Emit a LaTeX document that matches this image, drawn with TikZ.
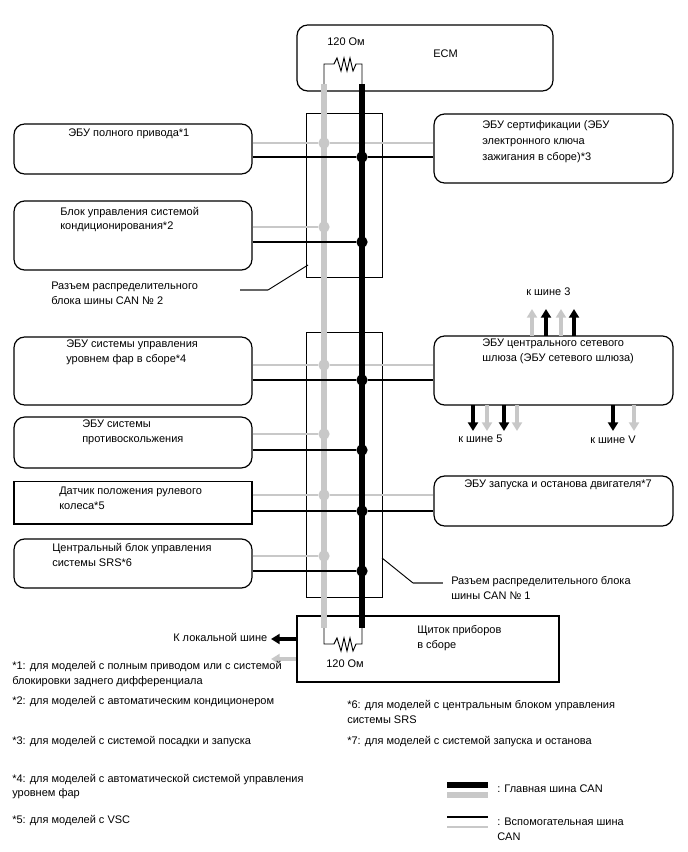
\documentclass[tikz,border=0pt]{standalone}
\usepackage{fontspec}
\setmainfont{Liberation Sans}
\usepackage{xcolor}
\usetikzlibrary{arrows.meta}
\definecolor{busgray}{RGB}{200,200,200}

\begin{document}
\begin{tikzpicture}[
      x=0.75pt, y=-0.75pt,
      font=\fontsize{8.25pt}{11.2pt}\selectfont,
      ecu/.style={draw, line width=0.9pt, rounded corners=8pt, inner sep=0pt},
      rectbox/.style={draw, line width=0.8pt, inner sep=0pt},
      joint/.style={draw, line width=0.7pt, inner sep=0pt},
      lbl/.style={anchor=west, inner sep=0pt, align=left, yshift=-0.8pt},
      gdot/.style={circle, fill=busgray, inner sep=0pt, minimum size=8.5pt},
      bdot/.style={circle, fill=black, inner sep=0pt, minimum size=8.5pt},
      gmain/.style={busgray, line width=3.8pt},
      bmain/.style={black, line width=3.8pt},
      gsub/.style={busgray, line width=2pt},
      bsub/.style={black, line width=2pt},
      thinw/.style={black, line width=0.7pt},
      leader/.style={black!60, line width=0.8pt},
      garrow/.style={-{Triangle[length=6.5pt,width=7.5pt]}, busgray, line width=3.4pt},
      barrow/.style={-{Triangle[length=6.5pt,width=7.5pt]}, black, line width=3.4pt},
    ]
    \useasboundingbox (0,0) rectangle (688,852);

    % boxes
    \node[ecu, minimum width=192pt, minimum height=49.5pt] (ecm) at (425,58) {};
    \node[ecu, minimum width=178.5pt, minimum height=37.5pt] (awd) at (133,149) {};
    \node[ecu, minimum width=178.5pt, minimum height=51.8pt] (ac) at (133,235.5) {};
    \node[ecu, minimum width=178.5pt, minimum height=51pt] (lamp) at (133,371) {};
    \node[ecu, minimum width=178.5pt, minimum height=38.2pt] (pcs) at (133,442.5) {};
    \node[rectbox, minimum width=178.5pt, minimum height=32.2pt] (steer) at (133,502.5) {};
    \node[ecu, minimum width=178.5pt, minimum height=36.8pt] (srs) at (133,563.5) {};
    \node[ecu, minimum width=179.2pt, minimum height=51.8pt] (cert) at (553.5,148.5) {};
    \node[ecu, minimum width=179.2pt, minimum height=51.8pt] (gate) at (553.5,370.5) {};
    \node[ecu, minimum width=179.2pt, minimum height=37.5pt] (start) at (553.5,501) {};
    \node[rectbox, minimum width=196.5pt, minimum height=49.5pt] (meter) at (428,649) {};
    \node[joint, minimum width=57pt, minimum height=123pt] (can2) at (344,195) {};
    \node[joint, minimum width=57pt, minimum height=198.8pt] (can1) at (344,464.5) {};

    % bus ends and joints
    \coordinate (gtop) at (324,84);
    \coordinate (btop) at (362,84);
    \coordinate (gbot) at (324,628);
    \coordinate (bbot) at (362,628);
    \node[gdot] (g1) at (324,143) {};
    \node[gdot] (g2) at (324,227) {};
    \node[gdot] (g3) at (324,365) {};
    \node[gdot] (g4) at (324,434) {};
    \node[gdot] (g5) at (324,495) {};
    \node[gdot] (g6) at (324,556) {};
    \node[bdot] (b1) at (362,157) {};
    \node[bdot] (b2) at (362,242) {};
    \node[bdot] (b3) at (362,380) {};
    \node[bdot] (b4) at (362,450) {};
    \node[bdot] (b5) at (362,511) {};
    \node[bdot] (b6) at (362,571) {};

    % grey lines
    \draw[gmain] (gtop) -- (gbot);
    \draw[gsub] (awd.east |- g1) -- (g1) -- (cert.west |- g1);
    \draw[gsub] (ac.east |- g2) -- (g2);
    \draw[gsub] (lamp.east |- g3) -- (g3) -- (gate.west |- g3);
    \draw[gsub] (pcs.east |- g4) -- (g4);
    \draw[gsub] (steer.east |- g5) -- (g5) -- (start.west |- g5);
    \draw[gsub] (srs.east |- g6) -- (g6);

    % black lines
    \draw[bmain] (btop) -- (bbot);
    \draw[bsub] (awd.east |- b1) -- (b1) -- (cert.west |- b1);
    \draw[bsub] (ac.east |- b2) -- (b2);
    \draw[bsub] (lamp.east |- b3) -- (b3) -- (gate.west |- b3);
    \draw[bsub] (pcs.east |- b4) -- (b4);
    \draw[bsub] (steer.east |- b5) -- (b5) -- (start.west |- b5);
    \draw[bsub] (srs.east |- b6) -- (b6);

    % resistors
    \draw[thinw] (gtop) -- (324,64) -- (334,64) -- ++(3,-6) -- ++(4,13) -- ++(3,-13) -- ++(3,13) -- ++(3,-13) -- ++(3,13) -- ++(3,-7) -- (362,64) -- (btop);
    \draw[thinw] (gbot) -- (324,644) -- (334,644) -- ++(3,-6) -- ++(4,13) -- ++(3,-13) -- ++(3,13) -- ++(3,-13) -- ++(3,13) -- ++(3,-7) -- (362,644) -- (bbot);

    % arrows
    \draw[garrow] (532,336) -- (532,309);
    \draw[barrow] (546,336) -- (546,309);
    \draw[garrow] (561,336) -- (561,309);
    \draw[barrow] (574,336) -- (574,309);
    \draw[barrow] (473,405) -- (473,431);
    \draw[garrow] (487,405) -- (487,431);
    \draw[barrow] (504,405) -- (504,431);
    \draw[garrow] (517,405) -- (517,431);
    \draw[barrow] (613,405) -- (613,431);
    \draw[garrow] (634,405) -- (634,431);
    \draw[barrow] (meter.west |- 0,639) -- (271,639);
    \draw[garrow] (meter.west |- 0,659) -- (271,659);

    % leaders
    \draw[leader] (240,290) -- (268,290);
    \draw[thinw] (268,290) -- (308,265);
    \draw[thinw] (382,558) -- (413,583);
    \draw[leader] (413,583) -- (443,583);

    % labels
    \node[lbl] (lohm1) at (327,41) {120 Ом};
    \node[lbl] (lecm) at (433,53) {ECM};
    \node[lbl] (lawd) at (68,133) {ЭБУ полного привода*1};
    \node[lbl] (lac) at (60,218.5) {Блок управления системой\\кондиционирования*2};
    \node[lbl] (lcan2) at (51,292.5) {Разъем распределительного\\блока шины CAN № 2};
    \node[lbl] (llamp) at (66,351.5) {ЭБУ системы управления\\уровнем фар в сборе*4};
    \node[lbl] (lpcs) at (82,431) {ЭБУ системы\\противоскольжения};
    \node[lbl] (lsteer) at (59,497.5) {Датчик положения рулевого\\колеса*5};
    \node[lbl] (lsrs) at (52,554) {Центральный блок управления\\системы SRS*6};
    \node[lbl] (lcert) at (482,140.5) {ЭБУ сертификации (ЭБУ\\[1pt]электронного ключа\\[1pt]зажигания в сборе)*3};
    \node[lbl] (lbus3) at (526,291) {к шине 3};
    \node[lbl] (lgate) at (482,350) {ЭБУ центрального сетевого\\шлюза (ЭБУ сетевого шлюза)};
    \node[lbl] (lbus5) at (458,438) {к шине 5};
    \node[lbl] (lbusv) at (590,439) {к шине V};
    \node[lbl] (lstart) at (464,484) {ЭБУ запуска и останова двигателя*7};
    \node[lbl] (lcan1) at (451,586.5) {Разъем распределительного блока\\шины CAN № 1};
    \node[lbl] (lmeter) at (417,637) {Щиток приборов\\в сборе};
    \node[lbl] (llocal) at (173,636) {К локальной шине};
    \node[lbl] (lohm2) at (326,663) {120 Ом};

    % notes
    \node[lbl] (n1) at (12,673) {*1: для моделей с полным приводом или с системой\\блокировки заднего дифференциала};
    \node[lbl] (n2) at (12,700) {*2: для моделей с автоматическим кондиционером};
    \node[lbl] (n3) at (12,740) {*3: для моделей с системой посадки и запуска};
    \node[lbl] (n4) at (12,785.5) {*4: для моделей с автоматической системой управления\\уровнем фар};
    \node[lbl] (n5) at (12,819) {*5: для моделей с VSC};
    \node[lbl] (n6) at (347,711) {*6: для моделей с центральным блоком управления\\системы SRS};
    \node[lbl] (n7) at (347,740) {*7: для моделей с системой запуска и останова};

    % legend
    \coordinate (ka) at (447,785);
    \coordinate (kb) at (488,785);
    \coordinate (kc) at (447,795);
    \coordinate (kd) at (488,795);
    \coordinate (ke) at (447,817);
    \coordinate (kf) at (488,817);
    \coordinate (kg) at (447,827);
    \coordinate (kh) at (488,827);
    \draw[bmain] (ka) -- (kb);
    \draw[gmain] (kc) -- (kd);
    \draw[bsub] (ke) -- (kf);
    \draw[gsub] (kg) -- (kh);
    \node[lbl] (lmain) at (497,788) {: Главная шина CAN};
    \node[lbl] (lsub) at (497,828) {: Вспомогательная шина\\CAN};
  \end{tikzpicture}
\end{document}
